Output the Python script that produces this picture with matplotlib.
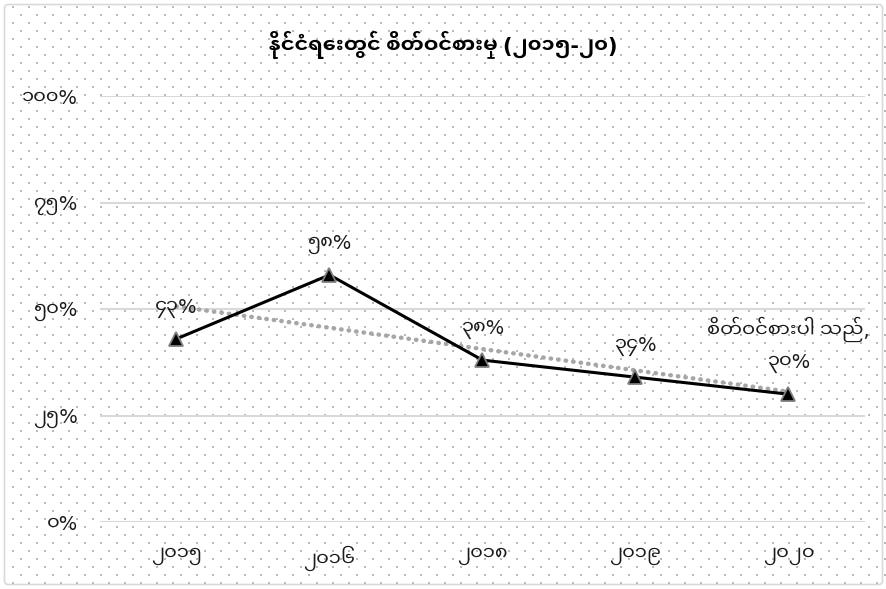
import matplotlib
matplotlib.use('Agg')
import matplotlib.pyplot as plt
import numpy as np
from matplotlib.patches import FancyBboxPatch

# ---- data ----
years = ['၂၀၁၅', '၂၀၁၆', '၂၀၁၈', '၂၀၁၉', '၂၀၂၀']
values = [43, 58, 38, 34, 30]
value_labels = ['၄၃%', '၅၈%', '၃၈%', '၃၄%', '၃၀%']
series_name = 'စိတ်ဝင်စားပါ သည်'
title = 'နိုင်ငံရေးတွင် စိတ်ဝင်စားမှု (၂၀၁၅-၂၀)'
yticks = [0, 25, 50, 75, 100]
ytick_labels = ['၀%', '၂၅%', '၅၀%', '၇၅%', '၁၀၀%']

FAM = ['Noto Sans Myanmar UI', 'DejaVu Sans']
plt.rcParams['font.family'] = FAM

W, H = 887, 589
fig = plt.figure(figsize=(W / 100, H / 100), dpi=100)

# background with dotted pattern and border
bg = fig.add_axes([0, 0, 1, 1], zorder=0)
bg.set_xlim(0, W)
bg.set_ylim(H, 0)
bg.axis('off')
xs, ys = [], []
for r, yy in enumerate(np.arange(7, H, 8)):
    off = 13 if r % 2 == 0 else 21
    for xx in np.arange(off, W, 16):
        xs.append(xx)
        ys.append(yy)
bg.scatter(xs, ys, s=1.8, c='#b8b8b8', marker='s', linewidths=0)
bg.add_patch(FancyBboxPatch((4.5, 4.5), W - 9, H - 9, boxstyle='round,pad=0,rounding_size=4',
                            fill=False, edgecolor='#d9d9d9', linewidth=1.2))

ax = fig.add_axes([100 / W, 1 - 522 / H, 765 / W, 426 / H], zorder=1)
ax.patch.set_alpha(0)
x = np.arange(len(years))
ax.set_xlim(-0.5, len(years) - 0.5)
ax.set_ylim(0, 100)

for yv in yticks:
    ax.axhline(yv, color='#d9d9d9', lw=1.5, zorder=1)

# trendline (linear fit of the series)
coef = np.polyfit(x, values, 1)
ax.plot(x, np.polyval(coef, x), color='#a6a6a6', lw=3.2, linestyle=(0, (0.1, 1.6)),
        dash_capstyle='round', zorder=2)

ax.plot(x, values, color='black', lw=2.2, marker='^', markersize=9.5,
        markerfacecolor='black', markeredgecolor='#7f7f7f', markeredgewidth=1.3, zorder=3)

for i, (v, lab) in enumerate(zip(values, value_labels)):
    txt = lab if i < len(values) - 1 else series_name + ',\n' + lab
    ax.annotate(txt, (i, v), xytext=(0, 15), textcoords='offset points',
                ha='center', va='bottom', fontsize=14, color='#1a1a1a', linespacing=1.75)

ax.set_xticks(x)
ax.set_xticklabels(years, fontsize=14, color='#1a1a1a')
ax.set_yticks(yticks)
ax.set_yticklabels(ytick_labels, fontsize=14, color='#1a1a1a')
ax.tick_params(length=0)
ax.tick_params(axis='y', pad=16)
ax.tick_params(axis='x', pad=17)
for s in ax.spines.values():
    s.set_visible(False)

fig.text(0.5, 1 - 45 / H, title, ha='center', va='center', fontsize=15,
         fontweight='bold', color='black')

fig.savefig('out.png', dpi=100)
